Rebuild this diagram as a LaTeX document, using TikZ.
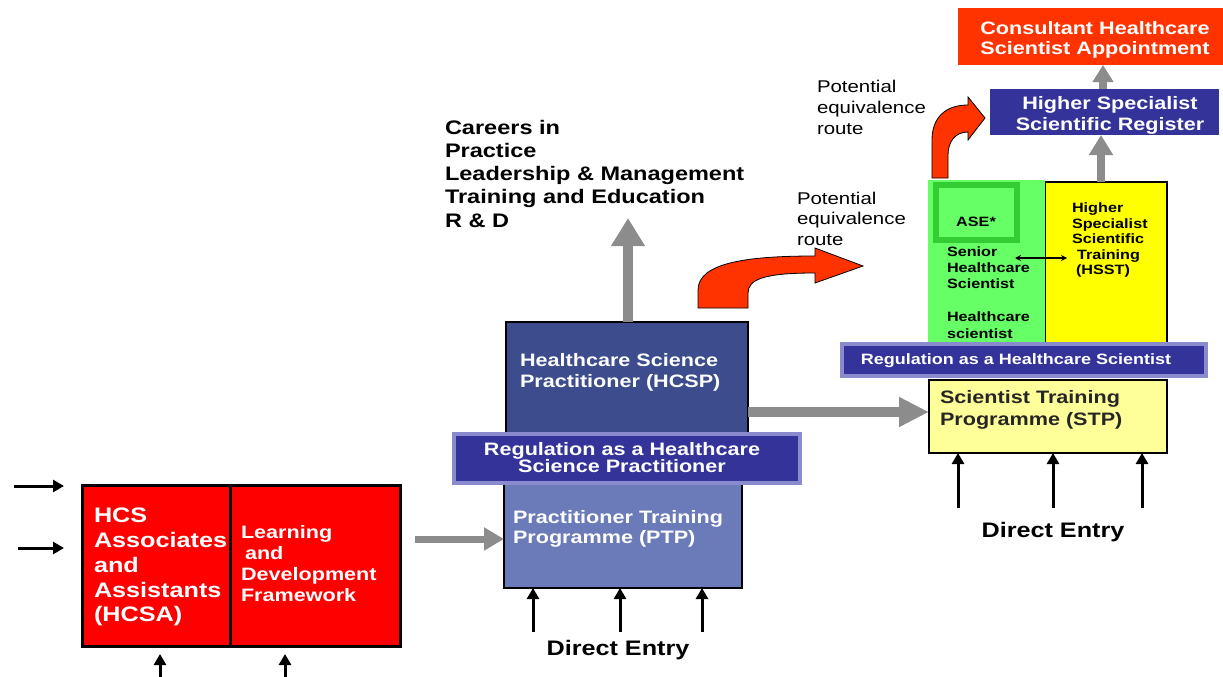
\documentclass[tikz,border=0pt]{standalone}
\usepackage{fontspec}
\setmainfont{Liberation Sans}[FakeStretch=1.2]
\usetikzlibrary{arrows.meta,calc}
\definecolor{hcsared}{HTML}{FF0000}
\definecolor{orangered}{HTML}{FF3300}
\definecolor{hcspblue}{HTML}{3D4C8C}
\definecolor{ptpblue}{HTML}{6B7BB9}
\definecolor{bandblue}{HTML}{333399}
\definecolor{bandedge}{HTML}{8A8ACF}
\definecolor{arrowgrey}{HTML}{8C8C8C}
\definecolor{litegreen}{HTML}{66FF66}
\definecolor{asegreen}{HTML}{33CC33}
\definecolor{hsstyellow}{HTML}{FFFF00}
\definecolor{stpyellow}{HTML}{FFFF99}
\begin{document}
\begin{tikzpicture}[x=1pt,y=-1pt,
  box/.style={draw=black, line width=2pt, inner sep=0pt, outer sep=0pt, anchor=north west},
  band/.style={fill=bandblue, draw=bandedge, line width=4pt, inner sep=0pt, outer sep=0pt, anchor=north west},
  txt/.style={inner sep=0pt, outer sep=0pt, anchor=north west, align=left},
  wtxt/.style={txt, text=white},
  greyarr/.style={draw=arrowgrey, line width=#1},
  entryarr/.style={draw=black, line width=3pt, -{Triangle[length=11pt,width=12pt]}},
  redarrow/.style={fill=orangered, draw=black, line width=0.8pt}
]
\useasboundingbox (0,0) rectangle (1223,677);

% ---------------- left: HCSA and L&D ----------------
\node[box, line width=3pt, fill=hcsared, minimum width=148pt, minimum height=161pt] (hcsa) at (82,485) {};
\node[box, line width=3pt, fill=hcsared, minimum width=170pt, minimum height=161pt] (lnd) at (230,485) {};
\node[wtxt, font=\fontsize{21}{24.8}\selectfont\bfseries] (hcsatxt) at (94,508)
  {HCS\\Associates\\and\\Assistants\\(HCSA)};
\node[wtxt, font=\fontsize{18}{21.3}\selectfont\bfseries] (lndtxt) at (241,525)
  {Learning\\\hspace*{4pt}and\\Development\\Framework};

\coordinate (la1) at (14,486);
\coordinate (la2) at (18,548);
\draw[entryarr] (la1) -- (la1 -| 64,0);
\draw[entryarr] (la2) -- (la2 -| 64,0);
\coordinate (ba1) at (160,677);
\coordinate (ba2) at (285,677);
\draw[entryarr] (ba1) -- (ba1 |- 0,654);
\draw[entryarr] (ba2) -- (ba2 |- 0,654);

% ---------------- middle: HCSP / PTP ----------------
\node[box, fill=hcspblue, minimum width=242pt, minimum height=115pt] (hcsp) at (506,322) {};
\node[box, fill=ptpblue, minimum width=238pt, minimum height=110pt] (ptp) at (504,478) {};
\node[band, minimum width=346pt, minimum height=49pt] (reg1) at (454,434) {};
\node[wtxt, font=\fontsize{18}{21}\selectfont\bfseries] (hcsptxt) at (520,353)
  {Healthcare Science\\Practitioner (HCSP)};
\node[wtxt, font=\fontsize{18}{20}\selectfont\bfseries] (ptptxt) at (513,510)
  {Practitioner Training\\Programme (PTP)};
\node[wtxt, anchor=north, align=center, font=\fontsize{18}{17.5}\selectfont\bfseries] (reg1txt) at (622,442)
  {Regulation as a Healthcare\\Science Practitioner};

\coordinate (g1) at (415,539);
\draw[greyarr=7pt, -{Triangle[length=20pt,width=22pt]}] (g1) -- (g1 -| ptp.west);

\coordinate (pe1) at (533,632);
\coordinate (pe2) at (620,632);
\coordinate (pe3) at (702,632);
\draw[entryarr] (pe1) -- (pe1 |- ptp.south);
\draw[entryarr] (pe2) -- (pe2 |- ptp.south);
\draw[entryarr] (pe3) -- (pe3 |- ptp.south);
\node[txt, anchor=north, font=\fontsize{21}{24}\selectfont\bfseries] (de1) at (618,640) {Direct Entry};

\coordinate (up1) at (628,218);
\draw[greyarr=10pt, -{Triangle[length=28pt,width=32pt]}] (up1 |- hcsp.north) -- (up1);
\node[txt, font=\fontsize{19.6}{23.2}\selectfont\bfseries] (careers) at (445,120)
  {Careers in\\Practice\\Leadership \& Management\\Training and Education\\R \& D};

% red curved arrow 1
\filldraw[redarrow] (698,308) -- (698,290) .. controls (698,262) and (750,256) .. (815,256)
  -- (815,248) -- (863,266) -- (815,283) -- (815,273)
  .. controls (765,273) and (748,279) .. (748,293) -- (748,308) -- cycle;
\node[txt, font=\fontsize{17}{20.5}\selectfont] (pot1) at (797,192)
  {Potential\\equivalence\\route};

% ---------------- right: scientist column ----------------
\node[box, fill=hsstyellow, minimum width=122pt, minimum height=165pt] (hsst) at (1045,182) {};
\node[inner sep=0pt, outer sep=0pt, anchor=north west, fill=litegreen, minimum width=117pt, minimum height=165pt] (shs) at (928,180) {};
\node[inner sep=0pt, outer sep=0pt, anchor=north west, fill=litegreen, draw=asegreen, line width=6pt, minimum width=81pt, minimum height=55pt] (ase) at (936,185) {};
\node[font=\fontsize{13.5}{16}\selectfont\bfseries, inner sep=0pt] (asetxt) at (976,222) {ASE*};
\node[txt, font=\fontsize{13.5}{16}\selectfont\bfseries] (shstxt) at (947,247)
  {Senior\\Healthcare\\Scientist};
\node[txt, font=\fontsize{13.5}{16.5}\selectfont\bfseries] (hstxt) at (947,312)
  {Healthcare\\scientist};
\node[txt, font=\fontsize{13.5}{15.5}\selectfont\bfseries] (hssttxt) at (1072,203)
  {Higher\\Specialist\\Scientific\\\hspace*{5pt}Training\\\hspace*{4pt}(HSST)};
\coordinate (da1) at (1015,258);
\coordinate (da2) at (1067,258);
\draw[black, line width=1.2pt, {Stealth[length=6pt,width=6pt]}-{Stealth[length=6pt,width=6pt]}] (da1) -- (da2);

\node[band, minimum width=364pt, minimum height=32pt] (reg2) at (842,344) {};
\node[font=\fontsize{15}{17}\selectfont\bfseries, text=white, inner sep=0pt] (reg2txt) at (1016,361)
  {Regulation as a Healthcare Scientist};

\node[box, fill=stpyellow, minimum width=238pt, minimum height=73pt] (stp) at (929,380) {};
\node[txt, font=\fontsize{18}{22}\selectfont\bfseries, text=black!85] (stptxt) at (940,390)
  {Scientist Training\\Programme (STP)};

\coordinate (g2) at (0,412);
\draw[greyarr=10pt, -{Triangle[length=30pt,width=28pt]}] (hcsp.east |- g2) -- (stp.west |- g2);

\coordinate (se1) at (958,508);
\coordinate (se2) at (1053,508);
\coordinate (se3) at (1142,508);
\draw[entryarr] (se1) -- (se1 |- stp.south);
\draw[entryarr] (se2) -- (se2 |- stp.south);
\draw[entryarr] (se3) -- (se3 |- stp.south);
\node[txt, anchor=north, font=\fontsize{21}{24}\selectfont\bfseries] (de2) at (1053,522) {Direct Entry};

% register and consultant
\node[inner sep=0pt, outer sep=0pt, anchor=north west, fill=bandblue, minimum width=229pt, minimum height=46pt] (reg) at (990,89) {};
\node[wtxt, anchor=north, align=center, font=\fontsize{18}{21}\selectfont\bfseries] (regtxt) at (1110,96)
  {Higher Specialist\\Scientific Register};
\node[inner sep=0pt, outer sep=0pt, anchor=north west, fill=orangered, minimum width=265pt, minimum height=57pt] (cons) at (958,8) {};
\node[wtxt, anchor=north, align=center, font=\fontsize{18}{20}\selectfont\bfseries] (constxt) at (1095,21)
  {Consultant Healthcare\\Scientist Appointment};

\coordinate (c3) at (1101,0);
\draw[greyarr=8pt, -{Triangle[length=20pt,width=23pt]}] (c3 |- hsst.north) -- (c3 |- reg.south);
\coordinate (c4) at (1103,0);
\draw[greyarr=8pt, -{Triangle[length=17pt,width=20pt]}] (c4 |- reg.north) -- (c4 |- cons.south);

% red curved arrow 2
\filldraw[redarrow] (932,178) -- (932,140) .. controls (932,118) and (945,105) .. (968,105)
  -- (968,97) -- (985,118) -- (968,140) -- (968,132)
  .. controls (955,132) and (948,142) .. (948,155) -- (948,178) -- cycle;
\node[txt, font=\fontsize{17}{21}\selectfont] (pot2) at (817,80)
  {Potential\\equivalence\\route};
\end{tikzpicture}
\end{document}
